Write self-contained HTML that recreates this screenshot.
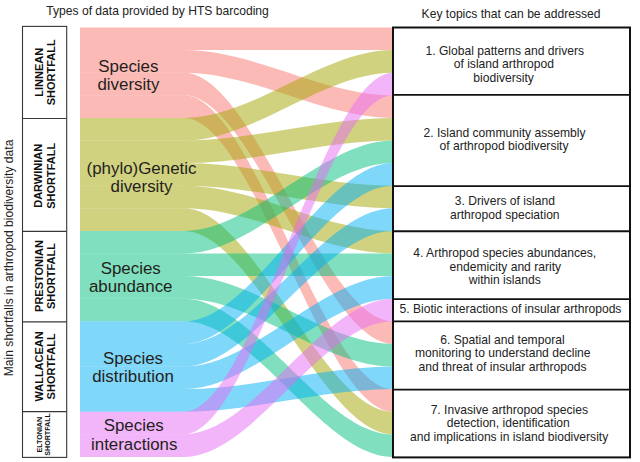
<!DOCTYPE html>
<html><head><meta charset="utf-8">
<style>
html,body{margin:0;padding:0;background:#fff;}
body{width:640px;height:462px;overflow:hidden;position:relative;}
svg{position:absolute;left:0;top:0;}
text{font-family:"Liberation Sans",sans-serif;fill:#222;}
.t12{font-size:12.1px;}
.lab{font-size:16.9px;fill:#231f20;}
.sf{font-size:11px;font-weight:bold;fill:#111;}
.sfs{font-size:7.1px;font-weight:bold;fill:#111;}
</style></head>
<body>
<svg width="640" height="462" viewBox="0 0 640 462">
<rect width="640" height="462" fill="#fff"/>
<g>
<path d="M80,27.5 L184,27.5 C253.67,27.5 323.33,27.5 393,27.5 L400,27.5 L400,50.1 L393,50.1 C323.33,50.1 253.67,50.1 184,50.1 L80,50.1Z" fill="#F8766D" fill-opacity="0.5"/>
<path d="M80,50.1 L184,50.1 C253.67,50.1 323.33,95.3 393,95.3 L400,95.3 L400,117.9 L393,117.9 C323.33,117.9 253.67,72.7 184,72.7 L80,72.7Z" fill="#F8766D" fill-opacity="0.5"/>
<path d="M80,72.7 L184,72.7 C253.67,72.7 323.33,321.3 393,321.3 L400,321.3 L400,343.9 L393,343.9 C323.33,343.9 253.67,95.3 184,95.3 L80,95.3Z" fill="#F8766D" fill-opacity="0.5"/>
<path d="M80,95.3 L184,95.3 C253.67,95.3 323.33,389.1 393,389.1 L400,389.1 L400,411.7 L393,411.7 C323.33,411.7 253.67,117.9 184,117.9 L80,117.9Z" fill="#F8766D" fill-opacity="0.5"/>
<path d="M80,117.9 L184,117.9 C253.67,117.9 323.33,50.1 393,50.1 L400,50.1 L400,72.7 L393,72.7 C323.33,72.7 253.67,140.5 184,140.5 L80,140.5Z" fill="#A3A500" fill-opacity="0.5"/>
<path d="M80,140.5 L184,140.5 C253.67,140.5 323.33,117.9 393,117.9 L400,117.9 L400,140.5 L393,140.5 C323.33,140.5 253.67,163.1 184,163.1 L80,163.1Z" fill="#A3A500" fill-opacity="0.5"/>
<path d="M80,163.1 L184,163.1 C253.67,163.1 323.33,185.7 393,185.7 L400,185.7 L400,208.3 L393,208.3 C323.33,208.3 253.67,185.7 184,185.7 L80,185.7Z" fill="#A3A500" fill-opacity="0.5"/>
<path d="M80,185.7 L184,185.7 C253.67,185.7 323.33,230.9 393,230.9 L400,230.9 L400,253.5 L393,253.5 C323.33,253.5 253.67,208.3 184,208.3 L80,208.3Z" fill="#A3A500" fill-opacity="0.5"/>
<path d="M80,208.3 L184,208.3 C253.67,208.3 323.33,411.7 393,411.7 L400,411.7 L400,434.3 L393,434.3 C323.33,434.3 253.67,230.9 184,230.9 L80,230.9Z" fill="#A3A500" fill-opacity="0.5"/>
<path d="M80,230.9 L184,230.9 C253.67,230.9 323.33,140.5 393,140.5 L400,140.5 L400,163.1 L393,163.1 C323.33,163.1 253.67,253.5 184,253.5 L80,253.5Z" fill="#00BF7D" fill-opacity="0.5"/>
<path d="M80,253.5 L184,253.5 C253.67,253.5 323.33,253.5 393,253.5 L400,253.5 L400,276.1 L393,276.1 C323.33,276.1 253.67,276.1 184,276.1 L80,276.1Z" fill="#00BF7D" fill-opacity="0.5"/>
<path d="M80,276.1 L184,276.1 C253.67,276.1 323.33,343.9 393,343.9 L400,343.9 L400,366.5 L393,366.5 C323.33,366.5 253.67,298.7 184,298.7 L80,298.7Z" fill="#00BF7D" fill-opacity="0.5"/>
<path d="M80,298.7 L184,298.7 C253.67,298.7 323.33,434.3 393,434.3 L400,434.3 L400,456.9 L393,456.9 C323.33,456.9 253.67,321.3 184,321.3 L80,321.3Z" fill="#00BF7D" fill-opacity="0.5"/>
<path d="M80,321.3 L184,321.3 C253.67,321.3 323.33,163.1 393,163.1 L400,163.1 L400,185.7 L393,185.7 C323.33,185.7 253.67,343.9 184,343.9 L80,343.9Z" fill="#00B0F6" fill-opacity="0.5"/>
<path d="M80,343.9 L184,343.9 C253.67,343.9 323.33,208.3 393,208.3 L400,208.3 L400,230.9 L393,230.9 C323.33,230.9 253.67,366.5 184,366.5 L80,366.5Z" fill="#00B0F6" fill-opacity="0.5"/>
<path d="M80,366.5 L184,366.5 C253.67,366.5 323.33,276.1 393,276.1 L400,276.1 L400,298.7 L393,298.7 C323.33,298.7 253.67,389.1 184,389.1 L80,389.1Z" fill="#00B0F6" fill-opacity="0.5"/>
<path d="M80,389.1 L184,389.1 C253.67,389.1 323.33,366.5 393,366.5 L400,366.5 L400,389.1 L393,389.1 C323.33,389.1 253.67,411.7 184,411.7 L80,411.7Z" fill="#00B0F6" fill-opacity="0.5"/>
<path d="M80,411.7 L184,411.7 C253.67,411.7 323.33,72.7 393,72.7 L400,72.7 L400,95.3 L393,95.3 C323.33,95.3 253.67,434.3 184,434.3 L80,434.3Z" fill="#E76BF3" fill-opacity="0.5"/>
<path d="M80,434.3 L184,434.3 C253.67,434.3 323.33,298.7 393,298.7 L400,298.7 L400,321.3 L393,321.3 C323.33,321.3 253.67,456.9 184,456.9 L80,456.9Z" fill="#E76BF3" fill-opacity="0.5"/>
</g>
<!-- right boxes -->
<g fill="#fff" stroke="#111" stroke-width="2">
<rect x="393" y="27.5" width="237" height="429.9"/>
</g>
<g stroke="#111" stroke-width="1.8">
<line x1="393" y1="94.9" x2="630" y2="94.9"/>
<line x1="393" y1="186.1" x2="630" y2="186.1"/>
<line x1="393" y1="231.25" x2="630" y2="231.25"/>
<line x1="393" y1="299.2" x2="630" y2="299.2"/>
<line x1="393" y1="321.3" x2="630" y2="321.3"/>
<line x1="393" y1="389.7" x2="630" y2="389.7"/>
</g>
<!-- left boxes -->
<g fill="none" stroke="#383838" stroke-width="1.1">
<rect x="22.5" y="26.4" width="44.2" height="431"/>
<line x1="22.5" y1="118.5" x2="66.7" y2="118.5"/>
<line x1="22.5" y1="231.4" x2="66.7" y2="231.4"/>
<line x1="22.5" y1="321.9" x2="66.7" y2="321.9"/>
<line x1="22.5" y1="411.6" x2="66.7" y2="411.6"/>
</g>
<!-- titles -->
<text class="t12" x="46.3" y="15.1">Types of data provided by HTS barcoding</text>
<text class="t12" x="421.6" y="17.8">Key topics that can be addressed</text>
<text class="t12" text-anchor="middle" transform="translate(12.8,257.9) rotate(-90)">Main shortfalls in arthropod biodiversity data</text>
<!-- shortfall labels -->
<g text-anchor="middle">
<text class="sf" transform="translate(43,72.3) rotate(-90)">LINNEAN</text>
<text class="sf" transform="translate(54.6,72.3) rotate(-90)">SHORTFALL</text>
<text class="sf" transform="translate(42.3,175.8) rotate(-90)">DARWINIAN</text>
<text class="sf" transform="translate(54.5,175.8) rotate(-90)">SHORTFALL</text>
<text class="sf" transform="translate(42.6,276) rotate(-90)">PRESTONIAN</text>
<text class="sf" transform="translate(54.5,276) rotate(-90)">SHORTFALL</text>
<text class="sf" transform="translate(42.6,366.4) rotate(-90)">WALLACEAN</text>
<text class="sf" transform="translate(54.5,366.4) rotate(-90)">SHORTFALL</text>
<text class="sfs" transform="translate(42.4,434.7) rotate(-90)">ELTONIAN</text>
<text class="sfs" transform="translate(50.3,434.4) rotate(-90)">SHORTFALL</text>
</g>
<!-- data type labels -->
<g text-anchor="middle" class="lab">
<text class="lab" x="128.4" y="71.7">Species</text>
<text class="lab" x="128.4" y="90">diversity</text>
<text class="lab" x="141.5" y="173.7">(phylo)Genetic</text>
<text class="lab" x="141.5" y="192.4">diversity</text>
<text class="lab" x="130.7" y="273.8">Species</text>
<text class="lab" x="130.7" y="292.3">abundance</text>
<text class="lab" x="133" y="363.5">Species</text>
<text class="lab" x="133" y="382.3">distribution</text>
<text class="lab" x="133.7" y="430.9">Species</text>
<text class="lab" x="134.2" y="450.2">interactions</text>
</g>
<!-- topic texts -->
<g text-anchor="middle" class="t12">
<text class="t12" x="504.8" y="54.9">1. Global patterns and drivers</text>
<text class="t12" x="503.8" y="68.4">of island arthropod</text>
<text class="t12" x="503.6" y="81.9">biodiversity</text>
<text class="t12" x="504.5" y="136.9">2. Island community assembly</text>
<text class="t12" x="504" y="150.4">of arthropod biodiversity</text>
<text class="t12" x="504.8" y="205.2">3. Drivers of island</text>
<text class="t12" x="504.8" y="218.6">arthropod speciation</text>
<text class="t12" x="504.8" y="257.1">4. Arthropod species abundances,</text>
<text class="t12" x="505.3" y="270.6">endemicity and rarity</text>
<text class="t12" x="504.8" y="284.1">within islands</text>
<text class="t12" x="510.5" y="313">5. Biotic interactions of insular arthropods</text>
<text class="t12" x="502.4" y="343.5">6. Spatial and temporal</text>
<text class="t12" x="502.8" y="357.3">monitoring to understand decline</text>
<text class="t12" x="502.5" y="371.1">and threat of insular arthropods</text>
<text class="t12" x="509.3" y="414">7. Invasive arthropod species</text>
<text class="t12" x="508.3" y="427.4">detection, identification</text>
<text class="t12" x="509.1" y="440.6">and implications in island biodiversity</text>
</g>
</svg>
</body></html>
